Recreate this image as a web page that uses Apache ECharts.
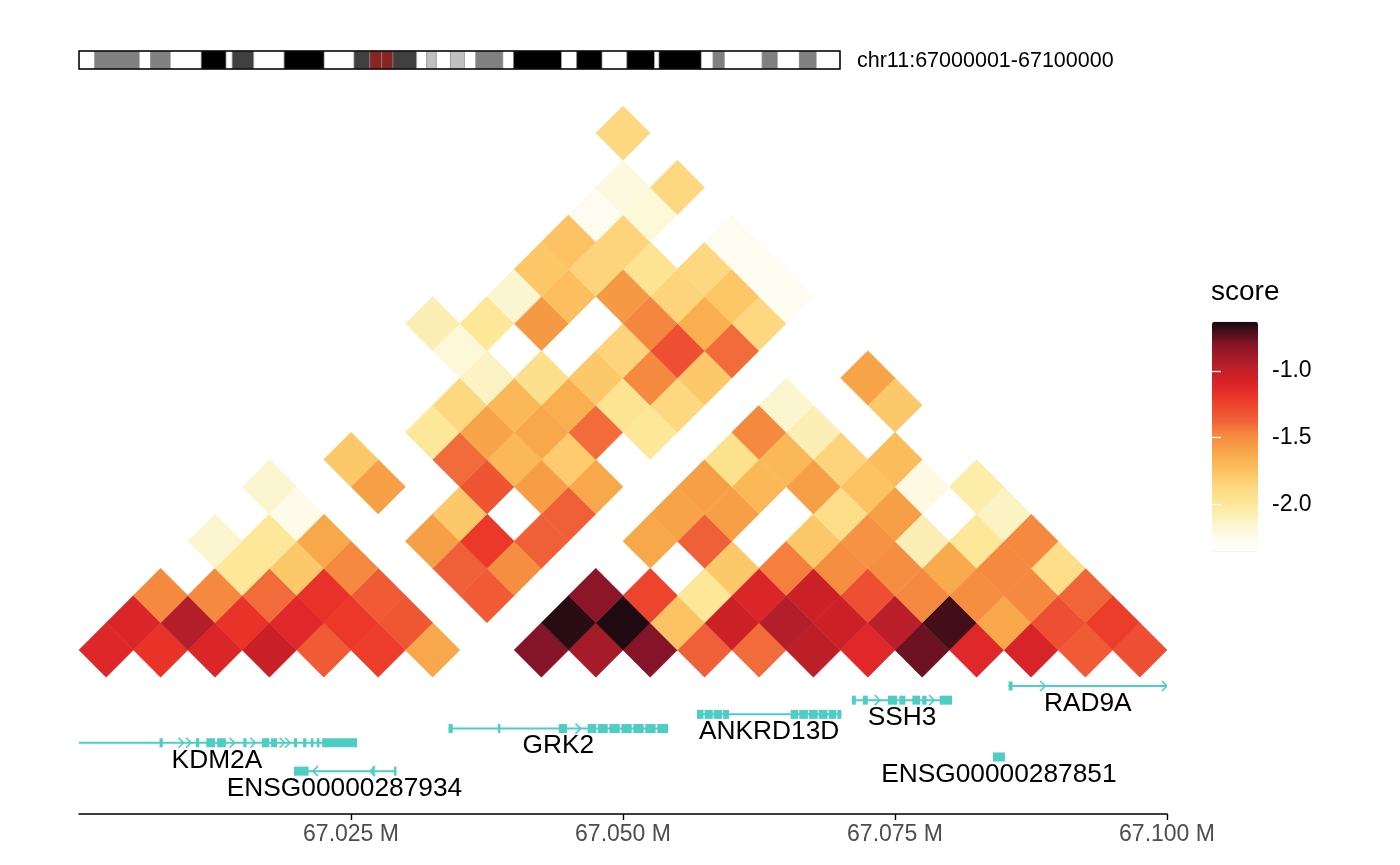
<!DOCTYPE html>
<html>
<head>
<meta charset="utf-8">
<script src="https://cdn.jsdelivr.net/npm/echarts@6/dist/echarts.min.js"></script>
<style>
html,body{margin:0;padding:0;background:#ffffff;}
#chart{width:1400px;height:865px;}
</style>
</head>
<body>
<div id="chart"></div>
<script>
// ---------------- data ----------------
const regionStartMb = 67.0;
const regionEndMb = 67.1;
const binSizeMb = 0.005;
const chromLabel = 'chr11:67000001-67100000';
const legendTitle = 'score';

// scores by diagonal distance (bins), index = first bin i
const dist0 = [-1.12,-1.18,-1.10,-1.02,-1.35,-1.22,-1.62,null,-0.80,-0.90,-0.80,-1.37,-1.40,-0.98,-1.13,-0.76,-1.13,-1.08,-1.35,-1.30];
const dist1 = [-1.10,-0.95,-1.18,-1.13,-1.20,-1.33,null,null,-0.66,-0.64,-1.75,-1.03,-0.95,-1.03,-0.97,-0.70,-1.62,-1.30,-1.22];
const dist2 = [-1.48,-1.48,-1.40,-1.17,-1.35,null,-1.35,null,-0.82,-1.25,-2.00,-1.10,-1.03,-1.30,-1.48,-1.50,-1.48,-1.38];
const dist3 = [null,-2.00,-1.78,-1.48,null,-1.37,-1.50,null,null,null,-1.78,-1.45,-1.50,-1.50,-1.63,-1.48,-1.92];
const dist4 = [-2.15,-2.00,-1.62,null,-1.58,-1.20,-1.37,null,-1.62,-1.37,null,-1.78,-1.52,-2.08,-2.00,-1.48];
const dist5 = [null,-2.25,null,null,-1.78,null,-1.37,null,-1.60,-1.58,null,-1.92,-1.58,null,-2.12];
const dist6 = [-2.15,null,-1.58,null,-1.32,-1.57,-1.62,null,-1.58,-1.70,-1.58,-1.75,-2.22,-2.05];
const dist7 = [null,-1.78,null,-1.40,-1.70,-1.80,null,null,-1.95,-1.70,-1.85,-1.72,null];
const dist8 = [null,null,-2.00,-1.60,-1.62,-1.40,-2.00,null,-1.48,-2.08,null,null];
const dist9 = [null,null,-1.87,-1.70,-1.65,-1.97,-1.87,null,-2.15,null,-1.78];
const dist10 = [null,null,-2.12,-1.93,-1.78,-1.48,-1.78,null,null,-1.60];
const dist11 = [null,-2.18,null,null,-1.85,-1.30,-1.40,null,null];
const dist12 = [-2.08,-2.00,-1.55,null,-1.47,-1.65,-1.87,null];
const dist13 = [null,-2.15,-1.73,-1.55,-1.85,-1.77,-2.27];
const dist14 = [null,-1.77,-1.85,-1.97,-1.87,-2.27];
const dist15 = [null,-1.75,-1.85,null,-2.27];
const dist16 = [null,-2.27,-2.18,null];
const dist17 = [null,-2.20,-1.87];
const dist18 = [null,null];
const dist19 = [-1.87];
const distanceRows = [dist0,dist1,dist2,dist3,dist4,dist5,dist6,dist7,dist8,dist9,dist10,dist11,dist12,dist13,dist14,dist15,dist16,dist17,dist18,dist19];

// colour scale
const scoreMin = -2.356;
const scoreMax = -0.63;
const legendTicks = [-2.0, -1.5, -1.0];
const axisTicks = [67.025, 67.05, 67.075, 67.1];

// genes (kb offsets from region start)
const geneNames = ['KDM2A','ENSG00000287934','GRK2','ANKRD13D','SSH3','RAD9A','ENSG00000287851'];
const geneStartKb = [-0.2, 19.76, 33.97, 56.8, 71.05, 85.44, 84.0];
const geneEndKb = [25.55, 29.04, 54.14, 70.07, 80.24, 100.0, 85.1];
const geneStrand = [1, -1, 1, 1, 1, 1, 1];
const geneTrack = [4, 6, 3, 2, 1, 0, 5];

const exonGene =    [0,0,0,0,0,0,0,0,0,0,0,0, 1,1,1, 2,2,2,2,2,2,2,2,2,2, 3,3,3,3,3,3,3,3,3,3, 4,4,4,4,4,4,4, 5, 6];
const exonStartKb = [7.4,10.75,11.7,12.7,15.1,16.8,17.65,19.75,20.6,21.3,21.85,22.35, 19.76,26.95,28.95, 33.97,38.5,44.1,46.75,47.7,48.75,49.85,50.95,52.05,53.15, 56.8,57.5,58.35,59.2,65.41,66.2,67.1,68.0,68.9,69.7, 71.05,72.05,74.35,75.4,76.6,77.5,79.1, 85.44, 84.0];
const exonEndKb =   [7.7,11.05,12.5,13.5,15.4,17.5,18.2,20.05,20.9,21.55,22.1,25.55, 21.1,27.1,29.04, 34.35,38.62,44.85,47.55,48.6,49.7,50.8,51.9,53.0,54.14, 57.4,58.25,59.1,59.74,66.1,67.0,67.9,68.8,69.6,70.07, 71.4,72.5,75.2,75.95,77.3,77.9,80.24, 85.8, 85.1];

const arrowGene = [0,0,0,0,0,0, 1,1, 2, 4,4, 5,5];
const arrowKb =   [9.6,10.3,14.3,16.2,18.9,19.4, 21.5,26.75, 46.1, 73.6,78.6, 88.8,100.0];

// chromosome 11 ideogram bands (Mb)
const ideoEdges = [0,2.8,10.7,12.7,16.2,21.7,26.1,27.2,31.0,36.4,43.5,48.8,51.6,53.7,55.7,59.9,61.7,63.4,65.9,68.4,70.4,75.2,77.1,85.6,88.3,92.8,97.2,102.1,102.9,110.4,112.5,114.5,121.2,123.9,127.8,130.8,135.006516];
const ideoStain = ['gneg','gpos50','gneg','gpos50','gneg','gpos100','gneg','gpos75','gneg','gpos100','gneg','gpos75','acen','acen','gpos75','gneg','gpos25','gneg','gpos25','gneg','gpos50','gneg','gpos100','gneg','gpos100','gneg','gpos100','gneg','gpos100','gneg','gpos50','gneg','gpos50','gneg','gpos50','gneg'];

// ---------------- styling ----------------
const FONT = '"Liberation Sans", Arial, Helvetica, sans-serif';
const TEAL = '#4ecdc4';
const stainColor = {gneg:'#ffffff', gpos25:'#c0c0c0', gpos50:'#808080', gpos75:'#404040', gpos100:'#000000', acen:'#8b2323'};
const rampStops = [[-2.356,'#ffffff'],[-2.27,'#fefcf0'],[-2.15,'#fcf6d0'],[-2.0,'#fde898'],[-1.87,'#fdd880'],[-1.78,'#fdc868'],[-1.62,'#f8a84a'],[-1.48,'#f58a40'],[-1.37,'#f06038'],[-1.2,'#ec3828'],[-1.13,'#e0282a'],[-1.03,'#cc2027'],[-0.95,'#b41e2a'],[-0.8,'#871428'],[-0.64,'#1c0a10'],[-0.63,'#1a0a0f']];
function hexToRgb(h){return [parseInt(h.slice(1,3),16),parseInt(h.slice(3,5),16),parseInt(h.slice(5,7),16)];}
function rampColor(v){
  for (let k=0;k<rampStops.length-1;k++){
    const v0=rampStops[k][0], v1=rampStops[k+1][0];
    if (v<=v1){
      const t=Math.max(0,Math.min(1,(v-v0)/(v1-v0)));
      const a=hexToRgb(rampStops[k][1]), b=hexToRgb(rampStops[k+1][1]);
      return 'rgb('+a.map((x,m)=>Math.round(x+(b[m]-x)*t)).join(',')+')';
    }
  }
  return rampStops[rampStops.length-1][1];
}
const rampColors=[];
for (let k=0;k<=100;k++) rampColors.push(rampColor(scoreMin+(scoreMax-scoreMin)*k/100));

// ---------------- build series data ----------------
const cells = [];
distanceRows.forEach((row, d) => row.forEach((v, i) => {
  if (v === null) return;
  cells.push([regionStartMb + binSizeMb * (2 * i + d + 1) / 2, d, v]);
}));
const kb = k => regionStartMb + k / 1000;
const geneData = geneNames.map((n, g) => [kb(geneStartKb[g]), kb(geneEndKb[g]), 0, g]);
const exonData = exonGene.map((g, e) => [kb(exonStartKb[e]), kb(exonEndKb[e]), 0, g]);
const arrowData = arrowGene.map((g, a) => [kb(arrowKb[a]), 0, g]);
const ideoData = ideoStain.map((s, b) => [ideoEdges[b], ideoEdges[b + 1], 0, b]);

function trackY(api, g) {
  return api.coord([regionStartMb, 0])[1] + 36 + 14.2 * geneTrack[g];
}

function renderCell(params, api) {
  const c = api.coord([api.value(0), api.value(1)]);
  const s = api.size([binSizeMb / 2, 1]);
  const col = api.visual('color');
  return {
    type: 'polygon',
    shape: {points: [[c[0] - s[0], c[1]], [c[0], c[1] - s[1]], [c[0] + s[0], c[1]], [c[0], c[1] + s[1]]]},
    style: {fill: col, stroke: col, lineWidth: 0.6}
  };
}
function renderGene(params, api) {
  const g = api.value(3);
  const x0 = api.coord([api.value(0), 0])[0];
  const x1 = api.coord([api.value(1), 0])[0];
  const y = trackY(api, g);
  return {
    type: 'group',
    children: [
      {type: 'line', shape: {x1: x0, y1: y, x2: x1, y2: y}, style: {stroke: TEAL, lineWidth: 2}},
      {type: 'text', x: (x0 + x1) / 2, y: y + 17.5,
       style: {text: geneNames[g], fill: '#000000', fontSize: 26.3, fontFamily: FONT,
               textAlign: 'center', textVerticalAlign: 'middle', align: 'center', verticalAlign: 'middle'}}
    ]
  };
}
function renderExon(params, api) {
  const g = api.value(3);
  const x0 = api.coord([api.value(0), 0])[0];
  const x1 = api.coord([api.value(1), 0])[0];
  const y = trackY(api, g);
  const w = Math.max(2.5, x1 - x0);
  return {type: 'rect', shape: {x: x0, y: y - 4.5, width: w, height: 9}, style: {fill: TEAL}};
}
function renderArrow(params, api) {
  const g = api.value(2);
  const x = api.coord([api.value(0), 0])[0];
  const y = trackY(api, g);
  const dir = geneStrand[g];
  return {type: 'polyline', shape: {points: [[x - 5 * dir, y - 5], [x, y], [x - 5 * dir, y + 5]]},
          style: {stroke: TEAL, lineWidth: 1.6, fill: null}};
}
function renderBand(params, api) {
  const p0 = api.coord([api.value(0), 1]);
  const p1 = api.coord([api.value(1), 0]);
  const stain = ideoStain[api.value(3)];
  return {type: 'rect', shape: {x: p0[0], y: p0[1], width: p1[0] - p0[0], height: p1[1] - p0[1]},
          style: {fill: stainColor[stain], stroke: '#8a8a8a', lineWidth: 0.6}};
}
function renderOutline(params, api) {
  const p0 = api.coord([api.value(0), 1]);
  const p1 = api.coord([api.value(1), 0]);
  return {type: 'rect', shape: {x: p0[0], y: p0[1], width: p1[0] - p0[0], height: p1[1] - p0[1]},
          style: {fill: null, stroke: '#000000', lineWidth: 1.5}};
}

const chart = echarts.init(document.getElementById('chart'));
chart.setOption({
  animation: false,
  backgroundColor: '#ffffff',
  textStyle: {fontFamily: FONT},
  grid: [
    {left: 79, width: 1088, top: 104, height: 710},
    {left: 79, width: 761, top: 51, height: 18},
    {left: 1212, width: 46, top: 321.7, height: 230}
  ],
  xAxis: [
    {gridIndex: 0, type: 'value', min: regionStartMb, max: regionEndMb, interval: 0.025,
     axisLine: {show: true, onZero: false, lineStyle: {color: '#000000', width: 1.6}},
     axisTick: {show: true, customValues: axisTicks, length: 6, lineStyle: {color: '#000000', width: 1.4}},
     axisLabel: {customValues: axisTicks, color: '#4d4d4d', fontSize: 23, margin: 9, fontFamily: FONT,
                 formatter: v => (v < regionStartMb + 0.001 ? '' : v.toFixed(3) + ' M')},
     splitLine: {show: false}},
    {gridIndex: 1, type: 'value', min: 0, max: ideoEdges[ideoEdges.length - 1], show: false},
    {gridIndex: 2, type: 'value', min: 0, max: 1, show: false}
  ],
  yAxis: [
    {gridIndex: 0, type: 'value', min: -6.03, max: 20.07, show: false},
    {gridIndex: 1, type: 'value', min: 0, max: 1, show: false},
    {gridIndex: 2, type: 'value', min: scoreMin, max: scoreMax, position: 'right', z: 10,
     axisLine: {show: false}, splitLine: {show: false},
     axisTick: {show: true, inside: true, length: 9, customValues: legendTicks, lineStyle: {color: '#ffffff', width: 1.3}},
     axisLabel: {show: true, customValues: legendTicks, formatter: v => v.toFixed(1), color: '#000000', fontSize: 23, margin: 14, fontFamily: FONT}},
    {gridIndex: 2, type: 'value', min: scoreMin, max: scoreMax, position: 'left', z: 10,
     axisLine: {show: false}, splitLine: {show: false},
     axisTick: {show: true, inside: true, length: 9, customValues: legendTicks, lineStyle: {color: '#ffffff', width: 1.3}},
     axisLabel: {show: false}}
  ],
  visualMap: {
    type: 'continuous', seriesIndex: 0, dimension: 2, min: scoreMin, max: scoreMax,
    calculable: false, show: true, left: 1212, top: 321.7, itemWidth: 46, itemHeight: 230,
    padding: 0, text: null, hoverLink: false,
    inRange: {color: rampColors}
  },
  graphic: [
    {type: 'text', left: 857, top: 50, silent: true,
     style: {text: chromLabel, fill: '#000000', fontSize: 21.5, fontFamily: FONT}},
    {type: 'text', left: 1211, top: 278, silent: true,
     style: {text: legendTitle, fill: '#000000', fontSize: 28, fontFamily: FONT}}
  ],
  series: [
    {type: 'custom', name: 'contacts', xAxisIndex: 0, yAxisIndex: 0, silent: true,
     renderItem: renderCell, encode: {x: 0, y: 1}, data: cells, z: 2},
    {type: 'custom', name: 'genes', xAxisIndex: 0, yAxisIndex: 0, silent: true, clip: true,
     renderItem: renderGene, encode: {x: [0, 1], y: 2}, data: geneData, z: 3},
    {type: 'custom', name: 'exons', xAxisIndex: 0, yAxisIndex: 0, silent: true, clip: true,
     renderItem: renderExon, encode: {x: [0, 1], y: 2}, data: exonData, z: 4},
    {type: 'custom', name: 'arrows', xAxisIndex: 0, yAxisIndex: 0, silent: true, clip: true,
     renderItem: renderArrow, encode: {x: 0, y: 1}, data: arrowData, z: 4},
    {type: 'custom', name: 'bands', xAxisIndex: 1, yAxisIndex: 1, silent: true,
     renderItem: renderBand, encode: {x: [0, 1], y: 2}, data: ideoData, z: 2},
    {type: 'custom', name: 'outline', xAxisIndex: 1, yAxisIndex: 1, silent: true,
     renderItem: renderOutline, encode: {x: [0, 1], y: 2}, data: [[0, ideoEdges[ideoEdges.length - 1], 0]], z: 3}
  ]
});
</script>
</body>
</html>
